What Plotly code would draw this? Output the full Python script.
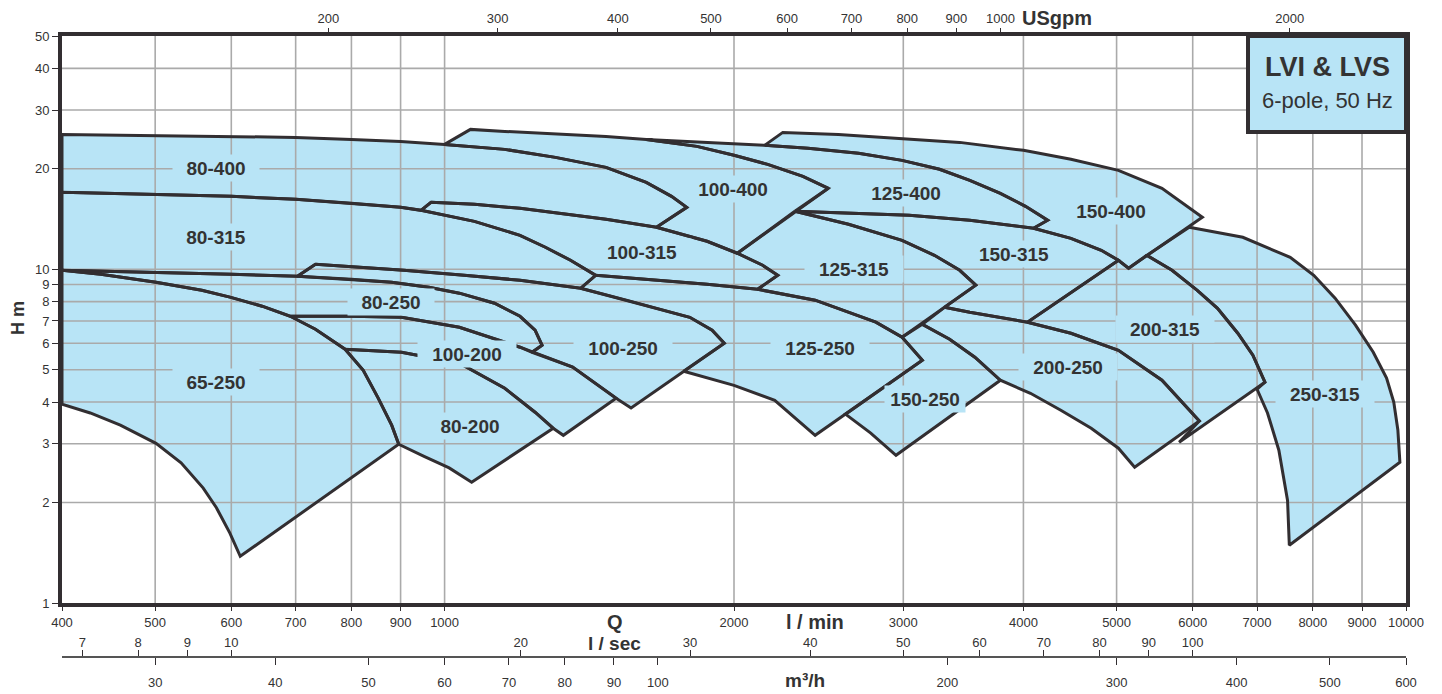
import math
import plotly.graph_objects as go

# ---------------- data (Q in l/min, H in m) ----------------
q_80_400 = [400, 501, 600, 700, 800, 900, 1000, 1155, 1304, 1472, 1621, 1722, 1786, 1661, 1472, 1336, 1198, 1074, 968, 945, 900, 800, 700, 600, 501, 400]
h_80_400 = [25.36, 25.19, 25.01, 24.84, 24.50, 24.16, 23.67, 22.87, 21.64, 20.20, 18.22, 16.54, 15.33, 13.36, 14.12, 14.61, 15.23, 15.65, 15.87, 15.02, 15.33, 15.76, 16.20, 16.54, 16.78, 17.01]

q_100_400 = [1000, 1064, 1155, 1336, 1472, 1621, 1830, 2000, 2168, 2359, 2507, 2016, 1875, 1661, 1786, 1722, 1621, 1472, 1304, 1155]
h_100_400 = [23.67, 26.25, 25.89, 25.36, 25.01, 24.50, 23.35, 21.95, 20.62, 18.99, 17.48, 11.17, 12.13, 13.36, 15.33, 16.54, 18.22, 20.20, 21.64, 22.87]

q_125_400 = [1621, 1875, 2152, 2388, 2695, 2991, 3272, 3518, 3785, 4020, 4239, 4098, 3518, 3042, 2695, 2314, 2507, 2359, 2168, 2000, 1830]
h_125_400 = [24.50, 24.00, 23.51, 23.03, 22.25, 21.20, 19.93, 18.47, 16.89, 15.44, 14.02, 13.27, 14.02, 14.51, 14.71, 14.92, 17.48, 18.99, 20.62, 21.95, 23.35]

q_150_400 = [2152, 2248, 2568, 3000, 3434, 4000, 4482, 5022, 5574, 6140, 5146, 5022, 4820, 4482, 4098, 4239, 4020, 3785, 3518, 3272, 2991, 2695, 2388]
h_150_400 = [23.51, 25.71, 25.36, 24.67, 24.00, 22.72, 21.35, 19.79, 17.48, 14.31, 10.07, 10.64, 11.40, 12.38, 13.27, 14.02, 15.44, 16.89, 18.47, 19.93, 21.20, 22.25, 23.03]

q_80_315 = [400, 501, 600, 700, 800, 900, 945, 1074, 1198, 1273, 1352, 1436, 1385, 1198, 1048, 907, 734, 703, 600, 501, 400]
h_80_315 = [17.01, 16.78, 16.54, 16.20, 15.76, 15.33, 15.02, 13.92, 12.64, 11.64, 10.64, 9.59, 8.77, 9.27, 9.59, 9.93, 10.35, 9.53, 9.66, 9.80, 9.93]

q_100_315 = [968, 1074, 1198, 1336, 1472, 1661, 1875, 2016, 2142, 2221, 2116, 1875, 1661, 1436, 1352, 1273, 1198, 1074, 945]
h_100_315 = [15.87, 15.65, 15.23, 14.61, 14.12, 13.36, 12.13, 11.17, 10.28, 9.59, 8.71, 9.02, 9.27, 9.59, 10.64, 11.64, 12.64, 13.92, 15.02]

q_125_315 = [2314, 2631, 2991, 3232, 3434, 3569, 2991, 2809, 2429, 2116, 2221, 2142, 2016]
h_125_315 = [14.92, 13.64, 12.21, 11.01, 9.93, 8.96, 6.26, 6.94, 8.08, 8.71, 9.59, 10.28, 11.17]

q_150_315 = [2314, 2695, 3042, 3518, 4098, 4482, 4820, 5022, 4039, 3518, 3311, 3569, 3434, 3232, 2991, 2631]
h_150_315 = [14.92, 14.71, 14.51, 14.02, 13.27, 12.38, 11.40, 10.64, 6.94, 7.43, 7.69, 8.96, 9.93, 11.01, 12.21, 13.64]

q_200_315 = [5375, 5710, 6066, 6367, 6684, 6930, 7133, 5808, 6096, 5574, 5022, 4482, 4039, 5022, 5146]
h_200_315 = [11.01, 9.93, 8.65, 7.64, 6.43, 5.53, 4.59, 3.03, 3.51, 4.65, 5.72, 6.43, 6.94, 10.64, 10.07]

q_250_315 = [5950, 6765, 7578, 8018, 8438, 8861, 9246, 9545, 9711, 9807, 9855, 7562, 7530, 7375, 7177, 7000, 7133, 6930, 6684, 6367, 6066, 5710, 5375]
h_250_315 = [13.36, 12.47, 10.86, 9.59, 8.19, 6.80, 5.64, 4.72, 4.00, 3.30, 2.64, 1.49, 2.03, 2.87, 3.71, 4.37, 4.59, 5.53, 6.43, 7.64, 8.65, 9.93, 11.01]

q_65_250 = [400, 439, 501, 559, 598, 646, 691, 734, 788, 823, 853, 881, 896, 613, 598, 579, 561, 532, 501, 460, 428, 400]
h_65_250 = [9.93, 9.66, 9.14, 8.65, 8.25, 7.75, 7.23, 6.61, 5.76, 4.98, 4.11, 3.41, 2.99, 1.38, 1.62, 1.93, 2.21, 2.63, 3.01, 3.41, 3.71, 3.94]

q_80_250 = [400, 501, 600, 703, 800, 881, 963, 1036, 1127, 1198, 1242, 1263, 1233, 1198, 1036, 902, 800, 691, 646, 598, 559, 501, 439]
h_80_250 = [9.93, 9.80, 9.66, 9.53, 9.33, 9.14, 8.83, 8.48, 7.91, 7.23, 6.57, 5.92, 5.64, 5.84, 6.70, 7.18, 7.23, 7.23, 7.75, 8.25, 8.65, 9.14, 9.66]

q_100_250 = [734, 907, 1048, 1198, 1385, 1545, 1799, 1898, 1954, 1563, 1508, 1359, 1233, 1263, 1242, 1198, 1127, 1036, 963, 881, 800, 703]
h_100_250 = [10.35, 9.93, 9.59, 9.27, 8.77, 8.08, 7.18, 6.57, 6.00, 3.84, 4.11, 5.09, 5.64, 5.92, 6.57, 7.23, 7.91, 8.48, 8.83, 9.14, 9.33, 9.53]

q_125_250 = [1436, 1661, 1875, 2116, 2429, 2809, 2991, 3140, 2429, 2205, 2000, 1773, 1954, 1898, 1799, 1545, 1385]
h_125_250 = [9.59, 9.27, 9.02, 8.71, 8.08, 6.94, 6.26, 5.34, 3.18, 4.05, 4.49, 4.95, 6.00, 6.57, 7.18, 8.08, 8.77]

q_150_250 = [3140, 3352, 3561, 3785, 2948, 2775, 2612, 3140, 2991]
h_150_250 = [6.84, 6.17, 5.45, 4.65, 2.77, 3.23, 3.68, 5.34, 6.26]

q_200_250 = [3311, 3518, 4039, 4482, 5022, 5574, 6096, 5221, 5022, 4705, 4375, 4068, 3785, 3561, 3352, 3140]
h_200_250 = [7.69, 7.43, 6.94, 6.43, 5.72, 4.65, 3.51, 2.55, 2.91, 3.34, 3.78, 4.25, 4.65, 5.45, 6.17, 6.84]

q_100_200 = [691, 800, 902, 1036, 1198, 1359, 1508, 1329, 1297, 1242, 1155, 1036, 902, 788, 734]
h_100_200 = [7.23, 7.23, 7.18, 6.70, 5.84, 5.09, 4.11, 3.18, 3.34, 3.73, 4.40, 5.23, 5.64, 5.76, 6.61]

q_80_200 = [788, 902, 1036, 1155, 1242, 1297, 1067, 1011, 952, 896, 881, 853, 823]
h_80_200 = [5.76, 5.64, 5.23, 4.40, 3.73, 3.34, 2.30, 2.54, 2.75, 2.99, 3.41, 4.11, 4.98]

label_text = ['80-400', '80-315', '80-250', '65-250', '100-200', '80-200', '100-400', '125-400', '100-315',
              '125-315', '150-400', '150-315', '200-315', '200-250', '250-315', '100-250', '125-250', '150-250']
label_q = [579, 579, 879, 579, 1054, 1064, 1997, 3020, 1605, 2663, 4939, 3914, 5614, 4450, 8234, 1533, 2458, 3163]
label_h = [20.06, 12.47, 7.96, 4.59, 5.57, 3.39, 17.36, 16.89, 11.24, 10.0, 14.92, 11.09, 6.61, 5.09, 4.22, 5.80, 5.80, 4.08]

lmin_ticks = [400, 500, 600, 700, 800, 900, 1000, 2000, 3000, 4000, 5000, 6000, 7000, 8000, 9000, 10000]
h_ticks = [1, 2, 3, 4, 5, 6, 7, 8, 9, 10, 20, 30, 40, 50]
gpm_ticks = [200, 300, 400, 500, 600, 700, 800, 900, 1000, 2000]
lsec_ticks = [7, 8, 9, 10, 20, 30, 40, 50, 60, 70, 80, 90, 100]
m3h_ticks = [30, 40, 50, 60, 70, 80, 90, 100, 200, 300, 400, 500, 600]

# unit factors (l/min per unit)
L_PER_GPM = 3.78541
L_PER_SEC = 60.0
L_PER_M3H = 1000.0 / 60.0

regions = [
    (q_80_400, h_80_400), (q_100_400, h_100_400), (q_125_400, h_125_400), (q_150_400, h_150_400),
    (q_80_315, h_80_315), (q_100_315, h_100_315), (q_125_315, h_125_315), (q_150_315, h_150_315),
    (q_200_315, h_200_315), (q_250_315, h_250_315), (q_65_250, h_65_250), (q_80_250, h_80_250),
    (q_100_250, h_100_250), (q_125_250, h_125_250), (q_150_250, h_150_250), (q_200_250, h_200_250),
    (q_100_200, h_100_200), (q_80_200, h_80_200),
]

# ---------------- styling ----------------
FILL = "#b8e4f6"
LINE = "#322e31"
GRID = "rgb(170,170,170)"
TXT = "#333333"
SANS = "Liberation Sans, Arial, Helvetica, sans-serif"
LABEL_W_OVERRIDE = {"150-250": 76}

QMIN, QMAX = lmin_ticks[0], lmin_ticks[-1]
HMIN, HMAX = h_ticks[0], h_ticks[-1]

fig = go.Figure()

# fills
for q, h in regions:
    fig.add_trace(go.Scatter(x=q + [q[0]], y=h + [h[0]], mode="lines", fill="toself",
                             fillcolor=FILL, line=dict(width=0, color=FILL),
                             hoverinfo="skip", showlegend=False))

# grid lines (drawn over the fills, as in the original)
gx, gy = [], []
for v in lmin_ticks[1:-1]:
    gx += [v, v, None]
    gy += [HMIN, HMAX, None]
for v in h_ticks[1:-1]:
    gx += [QMIN, QMAX, None]
    gy += [v, v, None]
fig.add_trace(go.Scatter(x=gx, y=gy, mode="lines", line=dict(color=GRID, width=1.6),
                         hoverinfo="skip", showlegend=False))

# outlines
for q, h in regions:
    fig.add_trace(go.Scatter(x=q + [q[0]], y=h + [h[0]], mode="lines",
                             line=dict(color=LINE, width=3), hoverinfo="skip", showlegend=False))

# empty traces to activate the extra axes
for ax in ["x2", "x3", "x4"]:
    fig.add_trace(go.Scatter(x=[None], y=[None], xaxis=ax, yaxis="y", mode="lines",
                             showlegend=False, hoverinfo="skip"))

tickfont = dict(family=SANS, size=13, color=TXT)

annotations = []
for t, q, h in zip(label_text, label_q, label_h):
    annotations.append(dict(x=math.log10(q), y=math.log10(h), xref="x", yref="y",
                            text="<b>%s</b>" % t, showarrow=False,
                            font=dict(family=SANS, size=19, color=TXT),
                            bgcolor=FILL, width=LABEL_W_OVERRIDE.get(t, 12 * len(t) + 10),
                            height=22, borderpad=2))

# page layout (body margin removed): paper area spans page y 36..690, x 62..1406
PAGE_TOP, PAGE_BOT, PAGE_LEFT, PAGE_W = 36.0, 690.0, 62.0, 1344.0
def py(yp):
    return (PAGE_BOT - yp) / (PAGE_BOT - PAGE_TOP)
def px(xp):
    return (xp - PAGE_LEFT) / PAGE_W

def paper_ann(text, x, y, size=19, angle=0, yanchor="middle"):
    return dict(x=x, y=y, xref="paper", yref="paper", text=text, showarrow=False,
                font=dict(family=SANS, size=size, color=TXT), textangle=angle,
                xanchor="center", yanchor=yanchor)

annotations += [
    paper_ann("<b>Q</b>", px(615), py(622), 20),
    paper_ann("<b>l / min</b>", px(815), py(622), 20),
    paper_ann("<b>l / sec</b>", px(614), py(643), 19),
    paper_ann("<b>m³/h</b>", px(805), py(693), 19, yanchor="bottom"),
    paper_ann("<b>USgpm</b>", px(1057), py(18), 20),
    paper_ann("<b>H m</b>", px(18), py(318), 18, -90),
    paper_ann("<b>LVI & LVS</b>", px(1327), py(67), 27),
    paper_ann("6-pole, 50 Hz", px(1327), py(100), 22),
]

shapes = [dict(type="rect", xref="paper", yref="paper", x0=px(1248), x1=1.0, y0=py(132), y1=1.0,
               fillcolor=FILL, line=dict(color=LINE, width=4), layer="above")]

fig.update_layout(
    width=1442, height=694,
    margin=dict(l=62, r=36, t=36, b=4, autoexpand=False),
    paper_bgcolor="white", plot_bgcolor="white",
    showlegend=False,
    xaxis=dict(type="log", range=[math.log10(QMIN), math.log10(QMAX)],
               tickvals=lmin_ticks, ticktext=[str(v) for v in lmin_ticks],
               ticks="outside", ticklen=4, tickcolor=LINE, tickwidth=1, automargin=False,
               showgrid=False, zeroline=False, showline=True, linecolor=LINE, linewidth=4,
               mirror=True, tickfont=tickfont),
    yaxis=dict(type="log", range=[math.log10(HMIN), math.log10(HMAX)], domain=[py(603), 1.0],
               tickvals=h_ticks, ticktext=[str(v) for v in h_ticks],
               ticks="outside", ticklen=6, tickcolor=LINE, tickwidth=1, automargin=False,
               showgrid=False, zeroline=False, showline=True, linecolor=LINE, linewidth=4,
               mirror=True, tickfont=tickfont),
    xaxis2=dict(type="log", overlaying="x", side="top", anchor="y",
                range=[math.log10(QMIN / L_PER_GPM), math.log10(QMAX / L_PER_GPM)],
                tickvals=gpm_ticks, ticktext=[str(v) for v in gpm_ticks],
                ticks="outside", ticklen=7, tickcolor=LINE, tickwidth=1, automargin=False,
                showgrid=False, zeroline=False, showline=False, tickfont=tickfont),
    xaxis3=dict(type="log", overlaying="x", anchor="free", position=py(657), side="top",
                range=[math.log10(QMIN / L_PER_SEC), math.log10(QMAX / L_PER_SEC)],
                tickvals=lsec_ticks, ticktext=[str(v) for v in lsec_ticks],
                ticks="outside", ticklen=6, tickcolor=LINE, tickwidth=1, ticklabelstandoff=-2,
                automargin=False,
                showgrid=False, zeroline=False, showline=True, linecolor="#555555", linewidth=1.5,
                tickfont=tickfont),
    xaxis4=dict(type="log", overlaying="x", anchor="free", position=py(657), side="bottom",
                range=[math.log10(QMIN / L_PER_M3H), math.log10(QMAX / L_PER_M3H)],
                tickvals=m3h_ticks, ticktext=[str(v) for v in m3h_ticks],
                ticks="outside", ticklen=7, tickcolor=LINE, tickwidth=1, ticklabelstandoff=6,
                automargin=False,
                showgrid=False, zeroline=False, showline=False, tickfont=tickfont),
    annotations=annotations,
    shapes=shapes,
)

fig.write_html("out.html", config={"displayModeBar": False},
               post_script="document.body.style.margin='0px';")
